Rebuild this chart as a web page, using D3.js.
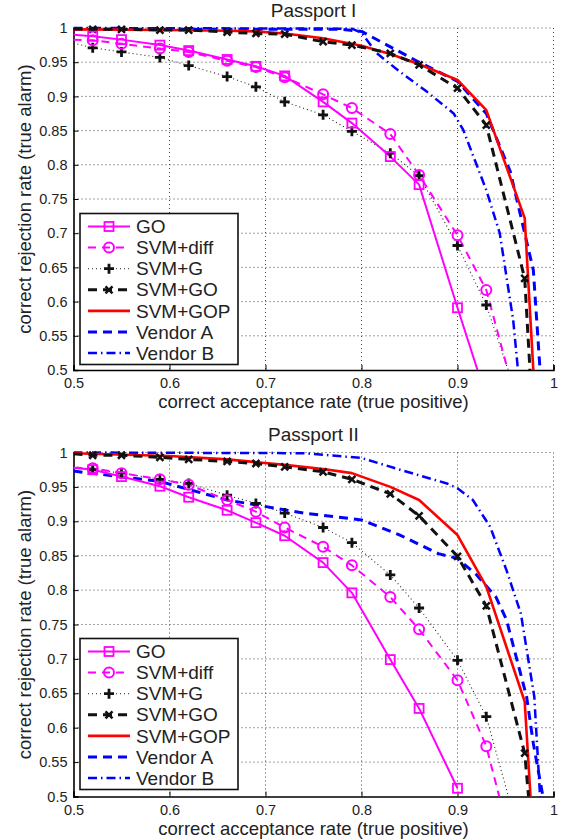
<!DOCTYPE html>
<html><head><meta charset="utf-8">
<script src="https://cdn.jsdelivr.net/npm/d3@7"></script>
<style>
html,body{margin:0;padding:0;background:#fff;}
text{font-family:"Liberation Sans",Arial,sans-serif;fill:#222;}
</style></head>
<body><svg id="c" width="562" height="840"></svg>
<script>
// ---------- data ----------
const seriesNames = ["GO","SVM+diff","SVM+G","SVM+GO","SVM+GOP","Vendor A","Vendor B"];
const xTicks = [0.5,0.6,0.7,0.8,0.9,1];
const yTicks = [0.5,0.55,0.6,0.65,0.7,0.75,0.8,0.85,0.9,0.95,1];
const xTickLabels = ["0.5","0.6","0.7","0.8","0.9","1"];
const yTickLabels = ["0.5","0.55","0.6","0.65","0.7","0.75","0.8","0.85","0.9","0.95","1"];
const titles = ["Passport I","Passport II"];
const xLabel = "correct acceptance rate (true positive)";
const yLabel = "correct rejection rate (true alarm)";

// Passport I
const p1GO   = [[0.5,0.99],[0.52,0.988],[0.55,0.983],[0.59,0.975],[0.62,0.967],[0.66,0.954],[0.69,0.944],[0.72,0.930],[0.76,0.892],[0.79,0.861],[0.83,0.812],[0.86,0.771],[0.9,0.591],[0.93,0.46]];
const p1Diff = [[0.5,0.983],[0.52,0.982],[0.55,0.977],[0.59,0.970],[0.62,0.965],[0.66,0.952],[0.69,0.943],[0.72,0.928],[0.76,0.903],[0.79,0.883],[0.83,0.845],[0.86,0.785],[0.9,0.697],[0.93,0.617],[0.96,0.46]];
const p1G    = [[0.5,0.978],[0.52,0.971],[0.55,0.965],[0.59,0.957],[0.62,0.945],[0.66,0.929],[0.69,0.914],[0.72,0.892],[0.76,0.873],[0.79,0.849],[0.83,0.817],[0.86,0.784],[0.9,0.682],[0.93,0.595],[0.96,0.47]];
const p1SGO  = [[0.5,0.999],[0.52,0.998],[0.55,0.998],[0.59,0.997],[0.62,0.997],[0.66,0.994],[0.69,0.992],[0.72,0.991],[0.76,0.98],[0.79,0.975],[0.83,0.963],[0.86,0.946],[0.9,0.912],[0.93,0.858],[0.97,0.634],[0.98,0.39]];
const p1GOP  = [[0.5,0.998],[0.6,0.997],[0.66,0.996],[0.69,0.995],[0.72,0.992],[0.76,0.985],[0.8,0.974],[0.83,0.962],[0.86,0.947],[0.9,0.924],[0.93,0.88],[0.97,0.722],[0.98,0.475]];
const p1VA   = [[0.5,0.998],[0.78,0.998],[0.8,0.995],[0.84,0.965],[0.86,0.95],[0.9,0.922],[0.93,0.875],[0.955,0.79],[0.979,0.646],[0.986,0.5],[0.99,0.42]];
const p1VB   = [[0.5,1.0],[0.79,0.999],[0.8,0.993],[0.816,0.963],[0.84,0.936],[0.868,0.907],[0.896,0.875],[0.906,0.851],[0.93,0.763],[0.944,0.70],[0.958,0.573],[0.963,0.5],[0.966,0.45]];

// Passport II
const p2GO   = [[0.5,0.978],[0.52,0.975],[0.55,0.965],[0.59,0.951],[0.62,0.935],[0.66,0.916],[0.69,0.898],[0.72,0.879],[0.76,0.84],[0.79,0.796],[0.83,0.699],[0.86,0.628],[0.9,0.512]];
const p2Diff = [[0.5,0.978],[0.52,0.977],[0.55,0.970],[0.59,0.961],[0.62,0.953],[0.66,0.931],[0.69,0.914],[0.72,0.891],[0.76,0.863],[0.79,0.836],[0.83,0.790],[0.86,0.743],[0.9,0.669],[0.93,0.573],[0.96,0.41]];
const p2G    = [[0.5,0.98],[0.52,0.975],[0.55,0.970],[0.59,0.961],[0.62,0.955],[0.66,0.938],[0.69,0.926],[0.72,0.912],[0.76,0.891],[0.79,0.869],[0.83,0.822],[0.86,0.774],[0.9,0.698],[0.93,0.616],[0.96,0.465]];
const p2SGO  = [[0.5,0.998],[0.52,0.996],[0.55,0.996],[0.59,0.993],[0.62,0.99],[0.66,0.987],[0.69,0.984],[0.72,0.979],[0.76,0.972],[0.79,0.961],[0.83,0.94],[0.86,0.908],[0.9,0.849],[0.93,0.777],[0.97,0.563],[0.98,0.405]];
const p2GOP  = [[0.5,0.999],[0.6,0.995],[0.66,0.99],[0.72,0.982],[0.76,0.976],[0.79,0.97],[0.83,0.95],[0.86,0.931],[0.9,0.88],[0.93,0.805],[0.97,0.638],[0.98,0.41]];
const p2VA   = [[0.5,0.973],[0.59,0.958],[0.66,0.931],[0.74,0.912],[0.8,0.902],[0.84,0.88],[0.88,0.853],[0.9,0.846],[0.92,0.822],[0.94,0.79],[0.951,0.757],[0.972,0.645],[0.979,0.577],[0.989,0.5],[0.992,0.47]];
const p2VB   = [[0.5,1.0],[0.74,0.999],[0.8,0.992],[0.84,0.975],[0.889,0.955],[0.9,0.948],[0.916,0.931],[0.934,0.892],[0.951,0.829],[0.966,0.766],[0.98,0.645],[0.986,0.5],[0.988,0.45]];

const panels = [
  {title:titles[0], data:[p1GO,p1Diff,p1G,p1SGO,p1GOP,p1VA,p1VB], top:28, bottom:370, legTop:213.5},
  {title:titles[1], data:[p2GO,p2Diff,p2G,p2SGO,p2GOP,p2VA,p2VB], top:452.5, bottom:796.5, legTop:638.5}
];

// ---------- styles ----------
const styles = [
  {color:"#ff00ff", width:2,   dash:null,        marker:"square"},
  {color:"#ff00ff", width:2,   dash:"8,6",       marker:"circle"},
  {color:"#222",    width:1.1, dash:"1,3",       marker:"plus"},
  {color:"#111",    width:3,   dash:"9,6",       marker:"x"},
  {color:"#ff0000", width:2.6, dash:null,        marker:null},
  {color:"#0000ff", width:3,   dash:"9,6",       marker:null},
  {color:"#0000ff", width:2.5, dash:"9,4,1.5,4", marker:null}
];

const svg = d3.select("#c");
const X0 = 73.5, X1 = 553.5;

function drawMarker(g, type, x, y, color){
  if(type==="square"){
    g.append("rect").attr("x",x-4.5).attr("y",y-4.5).attr("width",9).attr("height",9)
      .attr("fill","none").attr("stroke",color).attr("stroke-width",1.8);
  } else if(type==="circle"){
    g.append("circle").attr("cx",x).attr("cy",y).attr("r",5)
      .attr("fill","none").attr("stroke",color).attr("stroke-width",2);
  } else if(type==="plus"){
    g.append("path").attr("d",`M${x-5},${y}H${x+5}M${x},${y-5}V${y+5}`)
      .attr("stroke","#111").attr("stroke-width",2.8).attr("fill","none");
  } else if(type==="x"){
    g.append("path").attr("d",`M${x-3.5},${y-3.5}L${x+3.5},${y+3.5}M${x-3.5},${y+3.5}L${x+3.5},${y-3.5}`)
      .attr("stroke","#111").attr("stroke-width",2.5).attr("fill","none");
  }
}

panels.forEach((p,pi)=>{
  const x = d3.scaleLinear().domain([0.5,1]).range([X0,X1]);
  const y = d3.scaleLinear().domain([0.5,1]).range([p.bottom,p.top]);
  const g = svg.append("g");

  // grid
  g.selectAll(".gx").data(xTicks.slice(1)).enter().append("line")
    .attr("x1",d=>x(d)).attr("x2",d=>x(d)).attr("y1",p.top).attr("y2",p.bottom)
    .attr("stroke","#444").attr("stroke-width",1).attr("stroke-dasharray","1,3");
  g.selectAll(".gy").data(yTicks.slice(1)).enter().append("line")
    .attr("x1",X0).attr("x2",X1).attr("y1",d=>y(d)).attr("y2",d=>y(d))
    .attr("stroke","#444").attr("stroke-width",1).attr("stroke-dasharray","1,3");

  // axes (left & bottom)
  const ax = g.append("g").attr("transform",`translate(0,${p.bottom})`)
    .call(d3.axisBottom(x).tickValues(xTicks).tickSize(-5).tickPadding(8).tickFormat((d,i)=>xTickLabels[i]));
  const ay = g.append("g").attr("transform",`translate(${X0},0)`)
    .call(d3.axisLeft(y).tickValues(yTicks).tickSize(-5).tickPadding(6).tickFormat((d,i)=>yTickLabels[i]));
  [ax,ay].forEach(a=>{
    a.select(".domain").attr("stroke","#000").attr("stroke-width",1.6);
    a.selectAll(".tick line").attr("stroke","#000").attr("stroke-width",1);
    a.selectAll(".tick text").style("font-size","14.5px").attr("fill","#222");
  });
  ax.selectAll(".tick text").attr("dy","0.71em");

  // clip
  const cid = "clip"+pi;
  svg.append("clipPath").attr("id",cid).append("rect")
    .attr("x",X0).attr("y",p.top-10).attr("width",562-X0).attr("height",p.bottom-p.top+10);

  const line = d3.line().x(d=>x(d[0])).y(d=>y(d[1]));
  const lg = g.append("g").attr("clip-path",`url(#${cid})`);
  for(let i=p.data.length-1;i>=0;i--){
    const s = styles[i];
    lg.append("path").attr("d",line(p.data[i])).attr("fill","none")
      .attr("stroke",s.color).attr("stroke-width",s.width)
      .attr("stroke-dasharray",s.dash).attr("stroke-linejoin","round");
  }
  const mg = g.append("g");
  for(let i=p.data.length-1;i>=0;i--){
    const s = styles[i];
    if(!s.marker) continue;
    p.data[i].forEach(d=>{
      if(d[0]>0.5 && d[1]>=0.5 && d[0]<=1) drawMarker(mg, s.marker, x(d[0]), y(d[1]), s.color);
    });
  }

  // title
  g.append("text").attr("x",(X0+X1)/2).attr("y",p.top-11.5).attr("text-anchor","middle")
    .style("font-size","19px").text(p.title);
  // x label
  g.append("text").attr("x",(X0+X1)/2).attr("y",p.bottom+38).attr("text-anchor","middle")
    .style("font-size","18.5px").text(xLabel);
  // y label
  g.append("text").attr("transform",`translate(30.5,${(p.top+p.bottom)/2}) rotate(-90)`)
    .attr("text-anchor","middle").style("font-size","18.5px").text(yLabel);

  // legend
  const L = g.append("g");
  L.append("rect").attr("x",80).attr("y",p.legTop).attr("width",158).attr("height",151)
    .attr("fill","#fff").attr("stroke","#111").attr("stroke-width",1.6);
  seriesNames.forEach((n,i)=>{
    const s = styles[i];
    const yy = p.legTop + 13 + i*21.1;
    L.append("line").attr("x1",88).attr("x2",130).attr("y1",yy).attr("y2",yy)
      .attr("stroke",s.color).attr("stroke-width",s.width).attr("stroke-dasharray",s.dash);
    if(s.marker) drawMarker(L, s.marker, 109, yy, s.color);
    L.append("text").attr("x",136).attr("y",yy).attr("dy","0.35em")
      .style("font-size","19px").text(n);
  });
});
</script></body></html>
